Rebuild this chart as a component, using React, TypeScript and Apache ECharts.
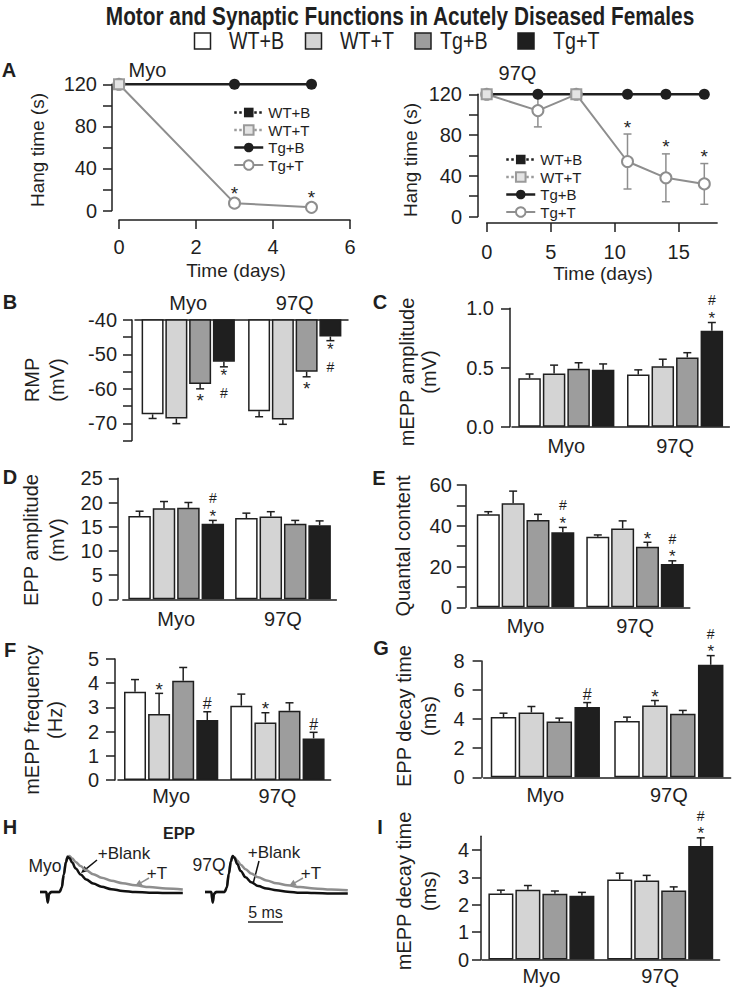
import { useEffect, useRef } from 'react';
import * as echarts from 'echarts';

const FONT = '"Liberation Sans", Arial, Helvetica, sans-serif';
const INK = '#1f1f1f';
const GRAY_LINE = '#8e8e8e';

const GROUPS = ['WT+B', 'WT+T', 'Tg+B', 'Tg+T'];
const CATEGORIES = ['Myo', '97Q'];
const BAR_FILLS = ['#ffffff', '#d4d4d4', '#9d9d9d', '#1f1f1f'];

// ---------- Panel A: hang time (s) ----------
const myoTgDays = [0, 3, 5];
const myoTgB = [120, 120, 120];
const myoTgT = [120, 7, 3];
const myoWtDays = [0];
const myoWtB = [120];
const myoWtT = [120];
const myoStarDays = [3, 5];

const q97TgDays = [0, 4, 7, 11, 14, 17];
const q97TgB = [120, 120, 120, 120, 120, 120];
const q97TgT = [120, 104, 120, 54, 38, 32];
const q97TgTErr = [0, 16, 0, 27, 23.5, 20];
const q97WtDays = [0, 7];
const q97WtB = [120, 120];
const q97WtT = [120, 120];
const q97StarDays = [11, 14, 17];

// ---------- Panel B: RMP (mV) ----------
const rmpMyo = [-67.4, -68.6, -58.6, -52.1];
const rmpMyoErr = [1.2, 1.5, 1.4, 1.5];
const rmpQ97 = [-66.5, -68.9, -55.0, -44.8];
const rmpQ97Err = [1.6, 1.4, 1.5, 1.2];
const rmpMarksMyo = ['', '', '*', '*#'];
const rmpMarksQ97 = ['', '', '*', '*#'];

// ---------- Panel C: mEPP amplitude (mV) ----------
const mampMyo = [0.41, 0.45, 0.49, 0.48];
const mampMyoErr = [0.035, 0.07, 0.05, 0.05];
const mampQ97 = [0.44, 0.51, 0.585, 0.81];
const mampQ97Err = [0.04, 0.06, 0.04, 0.07];
const mampMarksMyo = ['', '', '', ''];
const mampMarksQ97 = ['', '', '', '*#'];

// ---------- Panel D: EPP amplitude (mV) ----------
const eampMyo = [17.2, 18.8, 18.9, 15.6];
const eampMyoErr = [1.0, 1.4, 1.1, 0.7];
const eampQ97 = [16.8, 17.1, 15.6, 15.3];
const eampQ97Err = [1.0, 1.0, 0.7, 0.9];
const eampMarksMyo = ['', '', '', '*#'];
const eampMarksQ97 = ['', '', '', ''];

// ---------- Panel E: quantal content ----------
const qcMyo = [45.6, 51, 42.8, 36.8];
const qcMyoErr = [1.3, 6, 2.8, 2.4];
const qcQ97 = [34.6, 38.7, 29.7, 21.2];
const qcQ97Err = [0.9, 3.7, 2.2, 1.6];
const qcMarksMyo = ['', '', '', '*#'];
const qcMarksQ97 = ['', '', '*', '*#'];

// ---------- Panel F: mEPP frequency (Hz) ----------
const freqMyo = [3.65, 2.73, 4.1, 2.48];
const freqMyoErr = [0.5, 0.85, 0.55, 0.34];
const freqQ97 = [3.07, 2.38, 2.86, 1.72];
const freqQ97Err = [0.48, 0.4, 0.33, 0.25];
const freqMarksMyo = ['', '*', '', '#'];
const freqMarksQ97 = ['', '*', '', '#'];

// ---------- Panel G: EPP decay time (ms) ----------
const edecMyo = [4.14, 4.46, 3.83, 4.83];
const edecMyoErr = [0.27, 0.41, 0.24, 0.31];
const edecQ97 = [3.88, 4.94, 4.37, 7.74];
const edecQ97Err = [0.26, 0.34, 0.23, 0.63];
const edecMarksMyo = ['', '', '', '#'];
const edecMarksQ97 = ['', '*', '', '*#'];

// ---------- Panel I: mEPP decay time (ms) ----------
const mdecMyo = [2.41, 2.55, 2.4, 2.33];
const mdecMyoErr = [0.12, 0.15, 0.1, 0.12];
const mdecQ97 = [2.92, 2.88, 2.52, 4.14];
const mdecQ97Err = [0.23, 0.19, 0.13, 0.3];
const mdecMarksMyo = ['', '', '', ''];
const mdecMarksQ97 = ['', '', '', '*#'];
const mdecTicks = [0, 1, 2, 3, 4];

// ---------- Panel H: EPP traces (normalised) ----------
const eppTime = [0, 0.9, 1.1, 1.3, 1.6, 2.8, 3.1, 3.4, 3.7, 3.95, 4.2, 4.6, 5.1, 5.8, 6.6, 7.6, 8.8, 10.2, 11.8, 13.6, 15.6, 18, 20.4];
const myoBlankTrace = [0, 0, -0.3, -0.05, 0, 0, 0.12, 0.5, 0.85, 1.0, 0.97, 0.84, 0.67, 0.5, 0.36, 0.24, 0.15, 0.08, 0.03, 0.0, -0.02, -0.03, -0.03];
const myoTTrace = [0, 0, -0.3, -0.05, 0, 0, 0.12, 0.5, 0.86, 1.02, 1.03, 0.96, 0.86, 0.74, 0.62, 0.51, 0.41, 0.32, 0.25, 0.19, 0.14, 0.1, 0.07];
const q97BlankTrace = [0, 0, -0.3, -0.05, 0, 0, 0.12, 0.52, 0.88, 1.03, 0.98, 0.8, 0.6, 0.42, 0.28, 0.17, 0.1, 0.05, 0.01, -0.02, -0.03, -0.04, -0.04];
const q97TTrace = [0, 0, -0.3, -0.05, 0, 0, 0.12, 0.5, 0.86, 1.01, 0.99, 0.9, 0.78, 0.65, 0.53, 0.42, 0.33, 0.25, 0.19, 0.14, 0.1, 0.07, 0.05];
const scaleBarMs = 5;

const BAR_PANELS: any[] = [
  { myo: rmpMyo, myoErr: rmpMyoErr, q: rmpQ97, qErr: rmpQ97Err, mMyo: rmpMarksMyo, mQ: rmpMarksQ97,
    grid: { left: 135, top: 320, width: 213, height: 120.5 }, min: -75, max: -40, interval: 5, every: 10, dec: 0,
    yOffset: 3, yMargin: 15, catTop: true, catMargin: 7, bw: 22, gap: 0.08, dir: -1 },
  { myo: mampMyo, myoErr: mampMyoErr, q: mampQ97, qErr: mampQ97Err, mMyo: mampMarksMyo, mQ: mampMarksQ97,
    grid: { left: 512, top: 308.3, width: 217.4, height: 118.4 }, min: 0, max: 1, interval: 0.5, every: 0.5, dec: 1,
    yOffset: 2, yMargin: 16, catMargin: 9, bw: 22.5, gap: 0.09, dir: 1 },
  { myo: eampMyo, myoErr: eampMyoErr, q: eampQ97, qErr: eampQ97Err, mMyo: eampMarksMyo, mQ: eampMarksQ97,
    grid: { left: 122.8, top: 478.3, width: 213.6, height: 121 }, min: 0, max: 25, interval: 5, every: 5, dec: 0,
    yOffset: 5, yMargin: 15, catMargin: 10, bw: 22.5, gap: 0.085, dir: 1 },
  { myo: qcMyo, myoErr: qcMyoErr, q: qcQ97, qErr: qcQ97Err, mMyo: qcMarksMyo, mQ: qcMarksQ97,
    grid: { left: 470.8, top: 485, width: 219, height: 122.3 }, min: 0, max: 60, interval: 10, every: 20, dec: 0,
    yOffset: 5, yMargin: 14, catMargin: 9, bw: 23, gap: 0.08, dir: 1 },
  { myo: freqMyo, myoErr: freqMyoErr, q: freqQ97, qErr: freqQ97Err, mMyo: freqMarksMyo, mQ: freqMarksQ97,
    grid: { left: 118, top: 659, width: 212.6, height: 121 }, min: 0, max: 5, interval: 1, every: 1, dec: 0,
    yOffset: 3, yMargin: 16, catMargin: 6, bw: 22, gap: 0.095, dir: 1 },
  { myo: edecMyo, myoErr: edecMyoErr, q: edecQ97, qErr: edecQ97Err, mMyo: edecMarksMyo, mQ: edecMarksQ97,
    grid: { left: 483.6, top: 661, width: 247, height: 116.3 }, min: 0, max: 8, interval: 2, every: 2, dec: 0,
    yOffset: 2, yMargin: 17, catMargin: 8, bw: 25.5, gap: 0.094, dir: 1 },
  { myo: mdecMyo, myoErr: mdecMyoErr, q: mdecQ97, qErr: mdecQ97Err, mMyo: mdecMarksMyo, mQ: mdecMarksQ97,
    grid: { left: 482, top: 836.2, width: 237.6, height: 123.3 }, min: 0, max: 4.5, interval: 1, every: 1, dec: 0,
    ticks: mdecTicks, yOffset: 1, yMargin: 12, catMargin: 6, bw: 25, gap: 0.08, dir: 1 },
];

const A_STYLES: any = {
  'WT+B': { symbol: 'rect', symbolSize: 10, lineStyle: { color: INK, width: 2.5, type: 'dotted' }, itemStyle: { color: INK } },
  'WT+T': { symbol: 'rect', symbolSize: 10, lineStyle: { color: '#9a9a9a', width: 2.5, type: 'dotted' }, itemStyle: { color: '#e4e4e4', borderColor: '#9a9a9a', borderWidth: 2 } },
  'Tg+B': { symbol: 'circle', symbolSize: 11, lineStyle: { color: INK, width: 2.5 }, itemStyle: { color: INK } },
  'Tg+T': { symbol: 'circle', symbolSize: 11, lineStyle: { color: GRAY_LINE, width: 2 }, itemStyle: { color: '#ffffff', borderColor: GRAY_LINE, borderWidth: 2 } },
};

function txt(x: number, y: number, text: string, size: number, extra: any = {}, el: any = {}) {
  return {
    type: 'text', x, y, silent: true, ...el,
    style: { text, fontSize: size, fontFamily: FONT, fill: INK, align: 'center', verticalAlign: 'middle', ...extra },
  };
}

function vtxt(x: number, y: number, text: string, size: number, lh: number) {
  return txt(x, y, text, size, { lineHeight: lh }, { rotation: Math.PI / 2 });
}

function arrow(x1: number, y1: number, x2: number, y2: number, color: string) {
  const ang = Math.atan2(y2 - y1, x2 - x1);
  const L = 7, W = 3.2;
  const bx = x2 - L * Math.cos(ang), by = y2 - L * Math.sin(ang);
  const px = -Math.sin(ang) * W, py = Math.cos(ang) * W;
  return [
    { type: 'line', silent: true, shape: { x1, y1, x2: bx, y2: by }, style: { stroke: color, lineWidth: 1.5 } },
    { type: 'polygon', silent: true, shape: { points: [[x2, y2], [bx + px, by + py], [bx - px, by - py]] }, style: { fill: color } },
  ];
}

function markEl(x: number, yBox: number, ch: string, size: number) {
  return {
    type: 'text', x, y: yBox,
    style: { text: ch, fill: INK, fontSize: size, fontFamily: FONT, align: 'center', verticalAlign: 'middle' },
  };
}

// significance marks: '*' (vs WT) and '#' (vs Tg+B); stacked marks keep their text boxes apart
function markTexts(x: number, yEnd: number, dir: number, marks: string) {
  if (!marks) return [];
  if (marks.length === 1) {
    const yc = yEnd - dir * 8;
    return [marks === '*' ? markEl(x, yc + 4, '*', 19) : markEl(x, yc, '#', 16)];
  }
  if (dir > 0) {
    const star = yEnd - 4.3;
    return [markEl(x, star, '*', 17), markEl(x, star - 17.8, '#', 14)];
  }
  const star = yEnd + 8.5;
  return [markEl(x, star, '*', 17), markEl(x, star + 17.8, '#', 14)];
}

function buildOption() {
  const grids: any[] = [], xAxes: any[] = [], yAxes: any[] = [], series: any[] = [];
  const axisLine = { show: true, onZero: false, lineStyle: { color: INK, width: 1.5 } };
  const axisTick = { show: true, length: 9, lineStyle: { color: INK, width: 1.5 } };
  const labelBase = { color: INK, fontFamily: FONT, fontSize: 20 };

  // ---- A left (grid 0) ----
  grids.push({ left: 119, top: 84.3, width: 231, height: 126.2 });
  xAxes.push({ gridIndex: 0, type: 'value', min: 0, max: 6, interval: 2, offset: 9.5, axisLine, axisTick,
    splitLine: { show: false }, axisLabel: { ...labelBase, margin: 17 } });
  yAxes.push({ gridIndex: 0, type: 'value', min: 0, max: 120, interval: 20, offset: 7, axisLine, axisTick,
    splitLine: { show: false }, axisLabel: { ...labelBase, margin: 15, formatter: (v: number) => (v % 40 === 0 ? String(v) : '') } });
  // ---- A right (grid 1) ----
  grids.push({ left: 486.7, top: 94.3, width: 230.4, height: 122.2 });
  xAxes.push({ gridIndex: 1, type: 'value', min: 0, max: 18, offset: 6.5, axisLine,
    axisTick: { ...axisTick, customValues: [0, 5, 10, 15] }, splitLine: { show: false },
    axisLabel: { ...labelBase, margin: 19, customValues: [0, 5, 10, 15] } });
  yAxes.push({ gridIndex: 1, type: 'value', min: 0, max: 120, interval: 20, offset: 8.7, axisLine, axisTick,
    splitLine: { show: false }, axisLabel: { ...labelBase, margin: 16, formatter: (v: number) => (v % 40 === 0 ? String(v) : '') } });

  // WT lines are hidden behind the Tg+B line in the figure; only their markers show
  const aLine = (gi: number, name: string, days: number[], vals: number[]) => {
    const st = A_STYLES[name];
    const hideLine = name.startsWith('WT');
    return {
      type: 'line', name, xAxisIndex: gi, yAxisIndex: gi, silent: true, showSymbol: true,
      data: days.map((d, i) => [d, vals[i]]), symbol: st.symbol, symbolSize: st.symbolSize, itemStyle: st.itemStyle,
      lineStyle: hideLine ? { ...st.lineStyle, opacity: 0 } : st.lineStyle,
    };
  };
  series.push(aLine(0, 'Tg+T', myoTgDays, myoTgT), aLine(0, 'Tg+B', myoTgDays, myoTgB),
    aLine(0, 'WT+B', myoWtDays, myoWtB), aLine(0, 'WT+T', myoWtDays, myoWtT));
  series.push(aLine(1, 'Tg+T', q97TgDays, q97TgT), aLine(1, 'Tg+B', q97TgDays, q97TgB),
    aLine(1, 'WT+B', q97WtDays, q97WtB), aLine(1, 'WT+T', q97WtDays, q97WtT));

  // error bars (A right)
  series.push({
    type: 'custom', xAxisIndex: 1, yAxisIndex: 1, z: 1, silent: true, encode: { x: 0, y: 1 },
    data: q97TgDays.map((d, i) => [d, q97TgT[i], q97TgTErr[i]]).filter((r) => r[2] > 0),
    renderItem: (_p: any, api: any) => {
      const d = api.value(0), v = api.value(1), e = api.value(2);
      const t = api.coord([d, v + e]), b = api.coord([d, v - e]);
      const st = { stroke: GRAY_LINE, lineWidth: 1.5 };
      return { type: 'group', children: [
        { type: 'line', shape: { x1: t[0], y1: t[1], x2: b[0], y2: b[1] }, style: st },
        { type: 'line', shape: { x1: t[0] - 4, y1: t[1], x2: t[0] + 4, y2: t[1] }, style: st },
        { type: 'line', shape: { x1: b[0] - 4, y1: b[1], x2: b[0] + 4, y2: b[1] }, style: st },
      ] };
    },
  });
  // stars (A)
  const starSeries = (gi: number, data: number[][], off: number) => ({
    type: 'custom', xAxisIndex: gi, yAxisIndex: gi, z: 7, silent: true, encode: { x: 0, y: 1 }, data,
    renderItem: (_p: any, api: any) => {
      const c = api.coord([api.value(0), api.value(1)]);
      return { type: 'text', x: c[0], y: c[1] - off + 4,
        style: { text: '*', fontSize: 19, fontFamily: FONT, fill: INK, align: 'center', verticalAlign: 'middle' } };
    },
  });
  series.push(starSeries(0, myoStarDays.map((d) => [d, myoTgT[myoTgDays.indexOf(d)]]), 14));
  series.push(starSeries(1, q97StarDays.map((d) => {
    const i = q97TgDays.indexOf(d);
    return [d, q97TgT[i] + q97TgTErr[i]];
  }), 11));

  // ---- Bar panels (grids 2..8) ----
  BAR_PANELS.forEach((p, k) => {
    const gi = 2 + k;
    grids.push(p.grid);
    xAxes.push({ gridIndex: gi, type: 'category', data: CATEGORIES, position: p.catTop ? 'top' : 'bottom',
      axisLine, axisTick: { show: false }, splitLine: { show: false }, axisLabel: { ...labelBase, margin: p.catMargin } });
    const fmt = (v: number) => {
      const r = v / p.every;
      return Math.abs(r - Math.round(r)) < 1e-6 ? v.toFixed(p.dec) : '';
    };
    yAxes.push({ gridIndex: gi, type: 'value', min: p.min, max: p.max, interval: p.interval, offset: p.yOffset,
      axisLine, splitLine: { show: false },
      axisTick: p.ticks ? { ...axisTick, customValues: p.ticks } : axisTick,
      axisLabel: p.ticks ? { ...labelBase, margin: p.yMargin, formatter: fmt, customValues: p.ticks }
        : { ...labelBase, margin: p.yMargin, formatter: fmt } });
    GROUPS.forEach((name, g) => {
      series.push({ type: 'bar', name, xAxisIndex: gi, yAxisIndex: gi, silent: true, clip: true,
        barWidth: p.bw, barGap: `${p.gap * 100}%`, data: [p.myo[g], p.q[g]],
        itemStyle: { color: BAR_FILLS[g], borderColor: INK, borderWidth: 1.5 } });
    });
    const items: number[][] = [];
    const marks: string[] = [];
    [0, 1].forEach((c) => GROUPS.forEach((_n, g) => {
      items.push([c, g, c === 0 ? p.myo[g] : p.q[g], c === 0 ? p.myoErr[g] : p.qErr[g]]);
      marks.push(c === 0 ? p.mMyo[g] : p.mQ[g]);
    }));
    const step = p.bw * (1 + p.gap);
    series.push({
      type: 'custom', xAxisIndex: gi, yAxisIndex: gi, z: 5, silent: true, encode: { x: 0, y: 2 }, data: items,
      renderItem: (params: any, api: any) => {
        const c = api.value(0), g = api.value(1), v = api.value(2), e = api.value(3);
        const p0 = api.coord([c, v]);
        const p1 = api.coord([c, v + p.dir * e]);
        const x = p0[0] + (g - 1.5) * step;
        const st = { stroke: INK, lineWidth: 1.5 };
        const children: any[] = [
          { type: 'line', shape: { x1: x, y1: p0[1], x2: x, y2: p1[1] }, style: st },
          { type: 'line', shape: { x1: x - 4, y1: p1[1], x2: x + 4, y2: p1[1] }, style: st },
          ...markTexts(x, p1[1], p.dir, marks[params.dataIndex] || ''),
        ];
        return { type: 'group', children };
      },
    });
  });

  // ---- H traces (grids 9, 10) ----
  const hMin = -1.229, hMax = 1.2;
  grids.push({ left: 40, top: 850, width: 147, height: 85 });
  grids.push({ left: 205, top: 850, width: 147, height: 85 });
  [9, 10].forEach((gi) => {
    xAxes.push({ gridIndex: gi, type: 'value', min: 0, max: 21, show: false });
    yAxes.push({ gridIndex: gi, type: 'value', min: hMin, max: hMax, show: false });
  });
  const trace = (gi: number, name: string, vals: number[], color: string) => ({
    type: 'line', name, xAxisIndex: gi, yAxisIndex: gi, silent: true, showSymbol: false, smooth: 0.35,
    smoothMonotone: 'x', data: eppTime.map((t, i) => [t, vals[i]]), lineStyle: { color, width: 2.5 }, itemStyle: { color },
  });
  series.push(trace(9, 'Myo +T', myoTTrace, GRAY_LINE), trace(9, 'Myo +Blank', myoBlankTrace, '#111'));
  series.push(trace(10, '97Q +T', q97TTrace, GRAY_LINE), trace(10, '97Q +Blank', q97BlankTrace, '#111'));

  // ---- graphic overlay ----
  const g: any[] = [];
  g.push(txt(400, 16, 'Motor and Synaptic Functions in Acutely Diseased Females', 26, { fontWeight: 'bold' }, { scaleX: 0.8 }));
  const legBoxes = [202.5, 313.5, 423, 526];
  const legTexts = [229, 340, 440, 553];
  GROUPS.forEach((name, i) => {
    g.push({ type: 'rect', silent: true, shape: { x: legBoxes[i] - 8, y: 33, width: 16, height: 16 },
      style: { fill: BAR_FILLS[i], stroke: INK, lineWidth: 1.5 } });
    g.push(txt(legTexts[i], 41, name, 24, { align: 'left' }, { scaleX: 0.82 }));
  });
  const letters: [string, number, number][] = [['A', 9, 70], ['B', 10, 302], ['C', 380, 302], ['D', 10, 477],
    ['E', 379, 478], ['F', 10, 650], ['G', 381, 648], ['H', 10, 827], ['I', 380, 827]];
  letters.forEach(([l, x, y]) => g.push(txt(x, y, l, 20, { fontWeight: 'bold' })));

  g.push(vtxt(37.5, 150, 'Hang time (s)', 19, 22));
  g.push(vtxt(410.8, 160, 'Hang time (s)', 19, 22));
  g.push(vtxt(44.6, 380, 'RMP\n(mV)', 20, 25));
  g.push(vtxt(418, 372, 'mEPP amplitude\n(mV)', 20, 22));
  g.push(vtxt(44.3, 540, 'EPP amplitude\n(mV)', 20, 26));
  g.push(vtxt(402.5, 546, 'Quantal content', 20, 22));
  g.push(vtxt(43.4, 720, 'mEPP frequency\n(Hz)', 20, 23));
  g.push(vtxt(416.5, 716, 'EPP decay time\n(ms)', 20, 25));
  g.push(vtxt(416.5, 891, 'mEPP decay time\n(ms)', 20, 25));

  g.push(txt(236, 270, 'Time (days)', 19));
  g.push(txt(603, 273, 'Time (days)', 19));
  g.push(txt(147.5, 70, 'Myo', 20));
  g.push(txt(517.5, 73, '97Q', 20));

  // H annotations
  g.push(txt(179, 833, 'EPP', 16, { fontWeight: 'bold' }));
  g.push(txt(45, 866, 'Myo', 17.5));
  g.push(txt(124, 853, '+Blank', 17));
  g.push(txt(157, 873, '+T', 17));
  g.push(txt(209, 865, '97Q', 17.5));
  g.push(txt(274, 852, '+Blank', 17));
  g.push(txt(311, 873, '+T', 17));
  g.push(...arrow(97, 860, 81, 873, '#111'));
  g.push(...arrow(149, 878, 135, 886, GRAY_LINE));
  g.push({ type: 'line', silent: true, shape: { x1: 259, y1: 861, x2: 253, y2: 884 }, style: { stroke: '#111', lineWidth: 1.5 } });
  g.push(...arrow(303, 878, 289, 886, GRAY_LINE));
  const pxPerMs = 147 / 21;
  g.push({ type: 'line', silent: true, shape: { x1: 248, y1: 922, x2: 248 + scaleBarMs * pxPerMs, y2: 922 }, style: { stroke: INK, lineWidth: 1.5 } });
  g.push(txt(248 + (scaleBarMs * pxPerMs) / 2, 912, `${scaleBarMs} ms`, 16));

  const legendCommon = {
    orient: 'vertical', itemWidth: 29, itemHeight: 12, itemGap: 0.5, selectedMode: false,
    textStyle: { fontFamily: FONT, fontSize: 15, color: INK, lineHeight: 17 },
    data: GROUPS.map((name) => ({ name, lineStyle: { ...A_STYLES[name].lineStyle, opacity: 1 } })),
  };

  return {
    animation: false,
    backgroundColor: '#ffffff',
    textStyle: { fontFamily: FONT },
    grid: grids,
    xAxis: xAxes,
    yAxis: yAxes,
    legend: [
      { ...legendCommon, left: 228, top: 99 },
      { ...legendCommon, left: 500, top: 146 },
    ],
    series,
    graphic: g,
  };
}

export default function App() {
  const ref = useRef<HTMLDivElement>(null);
  useEffect(() => {
    document.body.style.margin = '0';
    const chart = echarts.init(ref.current as HTMLDivElement, null, { renderer: 'svg' });
    chart.setOption(buildOption() as any);
    return () => chart.dispose();
  }, []);
  return <div ref={ref} style={{ width: 750, height: 992, background: '#ffffff' }} />;
}
